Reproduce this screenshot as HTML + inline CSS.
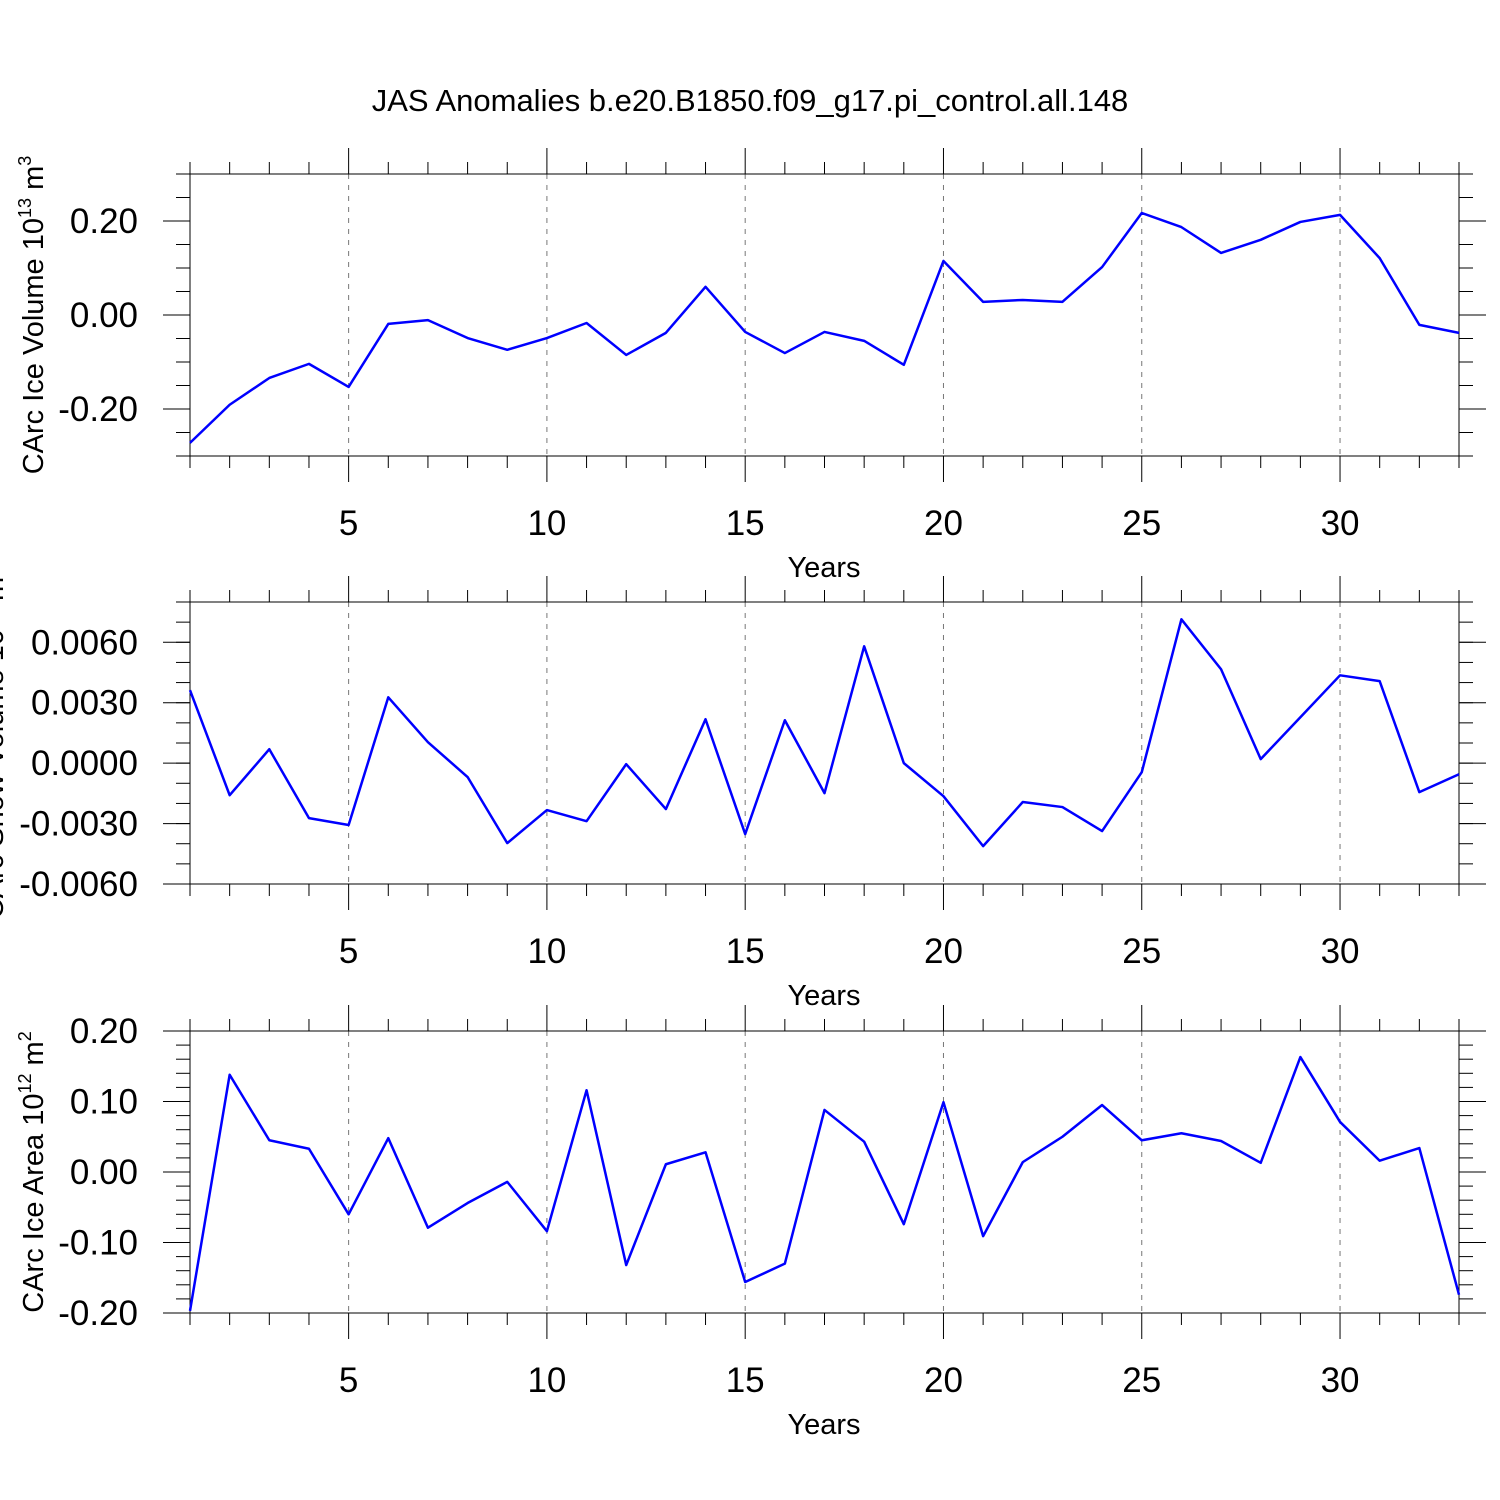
<!DOCTYPE html>
<html><head><meta charset="utf-8"><style>
html,body{margin:0;padding:0;background:#fff;}
svg{display:block;font-family:"Liberation Sans",Arial,sans-serif;}
</style></head><body>
<svg id="chart" width="1500" height="1500" xmlns="http://www.w3.org/2000/svg">
<rect width="1500" height="1500" fill="#fff"/>
<text x="750" y="111" font-size="31" text-anchor="middle">JAS Anomalies b.e20.B1850.f09_g17.pi_control.all.148</text>
</svg>
<script>
const years = Array.from({length:33},(_,i)=>i+1);
const xTicks = [5,10,15,20,25,30];
const iceVolume = [-0.272,-0.191,-0.134,-0.104,-0.153,-0.019,-0.011,-0.049,-0.074,-0.049,-0.017,-0.085,-0.038,0.060,-0.036,-0.081,-0.036,-0.055,-0.106,0.115,0.028,0.032,0.028,0.102,0.217,0.187,0.132,0.160,0.198,0.213,0.121,-0.021,-0.038];
const snowVolume = [0.00362,-0.00159,0.00069,-0.00273,-0.00307,0.00327,0.00104,-0.00069,-0.00397,-0.00233,-0.00288,-0.00005,-0.00228,0.00218,-0.00352,0.00213,-0.00149,0.0058,0.0,-0.00164,-0.00412,-0.00193,-0.00218,-0.00337,-0.00045,0.00714,0.00466,0.0002,0.00228,0.00436,0.00407,-0.00144,-0.00055];
const iceArea = [-0.197,0.138,0.045,0.033,-0.060,0.048,-0.079,-0.044,-0.014,-0.084,0.116,-0.132,0.011,0.028,-0.156,-0.130,0.088,0.043,-0.074,0.099,-0.091,0.014,0.050,0.095,0.045,0.055,0.044,0.013,0.163,0.071,0.016,0.034,-0.174];
const volTicks = [-0.2,0.0,0.2];
const volTickLabels = ["-0.20","0.00","0.20"];
const snowTicks = [-0.006,-0.003,0,0.003,0.006];
const snowTickLabels = ["-0.0060","-0.0030","0.0000","0.0030","0.0060"];
const areaTicks = [-0.2,-0.1,0,0.1,0.2];
const areaTickLabels = ["-0.20","-0.10","0.00","0.10","0.20"];

const NS="http://www.w3.org/2000/svg";
const svg=document.getElementById('chart');
function mk(tag,attrs,parent){const e=document.createElementNS(NS,tag);for(const k in attrs)e.setAttribute(k,attrs[k]);(parent||svg).appendChild(e);return e;}
const X0=190,X1=1459;
const xs=v=>X0+(v-1)*(X1-X0)/32;

function panel(cfg){
  const g=mk('g',{});
  
  
  const T=cfg.top,B=cfg.top+282;
  const ys=v=>B-(v-cfg.min)/(cfg.max-cfg.min)*(B-T);
  xTicks.forEach(t=>{
    const l=mk('line',{x1:xs(t),x2:xs(t),y1:T,y2:B,stroke:'#777','stroke-width':1,'stroke-dasharray':'5,6'},g);
    
    
  });
  years.forEach(t=>{
    const maj=xTicks.includes(t);
    const len=maj?26:12;
    mk('line',{x1:xs(t),x2:xs(t),y1:T-len,y2:T,stroke:'#000','stroke-width':1},g);
    mk('line',{x1:xs(t),x2:xs(t),y1:B,y2:B+len,stroke:'#000','stroke-width':1},g);
  });
  xTicks.forEach(t=>{
    const tx=mk('text',{x:xs(t),y:B+79,'font-size':35,'text-anchor':'middle'},g);
    
    
    tx.textContent=t;
  });
  const xt=mk('text',{x:824,y:B+121,'font-size':29,'text-anchor':'middle'},g);
  
  
  xt.textContent='Years';
  const n=Math.round((cfg.max-cfg.min)/cfg.minor);
  for(let i=0;i<=n;i++){
    const v=cfg.min+i*cfg.minor, y=ys(v);
    mk('line',{x1:X0-14,x2:X0,y1:y,y2:y,stroke:'#000','stroke-width':1},g);
    mk('line',{x1:X1,x2:X1+14,y1:y,y2:y,stroke:'#000','stroke-width':1},g);
  }
  cfg.ticks.forEach((v,i)=>{
    const y=ys(v);
    mk('line',{x1:X0-27,x2:X0,y1:y,y2:y,stroke:'#000','stroke-width':1},g);
    mk('line',{x1:X1,x2:X1+27,y1:y,y2:y,stroke:'#000','stroke-width':1},g);
    const tx=mk('text',{x:X0-52,y:y+12,'font-size':35,'text-anchor':'end'},g);
    
    
    tx.textContent=cfg.labels[i];
  });
  mk('rect',{x:X0,y:T,width:X1-X0,height:B-T,fill:'none',stroke:'#000','stroke-width':1},g);
  const yt=mk('text',{transform:`translate(${cfg.titleX},${(T+B)/2}) rotate(-90)`,'font-size':29,'text-anchor':'middle'},g);
  
  
  yt.innerHTML=cfg.title;
  const pts=cfg.data.map((v,i)=>xs(years[i])+','+ys(v)).join(' ');
  const pl=mk('polyline',{points:pts,fill:'none',stroke:'#0000ff','stroke-width':2.5,'stroke-linejoin':'round'},g);
  
  
}
panel({name:'ice-volume',top:174,min:-0.3,max:0.3,minor:0.05,ticks:volTicks,labels:volTickLabels,data:iceVolume,titleX:43,
  title:'CArc Ice Volume 10<tspan font-size="18" dy="-12">13</tspan><tspan dy="12"> m</tspan><tspan font-size="18" dy="-12">3</tspan>'});
panel({name:'snow-volume',top:602,min:-0.006,max:0.008,minor:0.001,ticks:snowTicks,labels:snowTickLabels,data:snowVolume,titleX:3,
  title:'CArc Snow Volume 10<tspan font-size="18" dy="-12">13</tspan><tspan dy="12"> m</tspan><tspan font-size="18" dy="-12">3</tspan>'});
panel({name:'ice-area',top:1031,min:-0.2,max:0.2,minor:0.02,ticks:areaTicks,labels:areaTickLabels,data:iceArea,titleX:43,
  title:'CArc Ice Area 10<tspan font-size="18" dy="-12">12</tspan><tspan dy="12"> m</tspan><tspan font-size="18" dy="-12">2</tspan>'});
</script>
</body></html>
